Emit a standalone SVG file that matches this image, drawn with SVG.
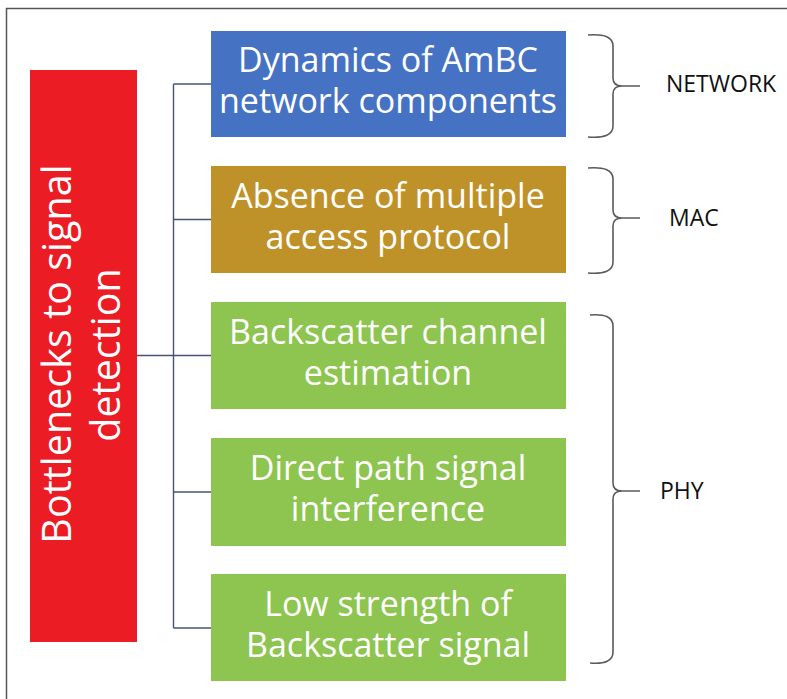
<svg xmlns="http://www.w3.org/2000/svg" width="787" height="699" viewBox="0 0 787 699">
<style>
.box text{font-family:"Open Sans","Noto Sans","DejaVu Sans",sans-serif;font-size:34px;fill:#ffffff;text-anchor:middle}
.root text{font-family:"Open Sans","Noto Sans","DejaVu Sans",sans-serif;font-size:39.5px;fill:#ffffff;text-anchor:middle}
.lbl{font-family:"Open Sans","Noto Sans","DejaVu Sans",sans-serif;font-size:23px;fill:#111111}
.brace{fill:none;stroke:#5a5a5a;stroke-width:1.6}
.conn{fill:none;stroke:#46527a;stroke-width:1.4}
</style>
<rect x="0" y="0" width="787" height="699" fill="#ffffff"/>
<path d="M6.5,699 L6.5,8.5 L787,8.5" fill="none" stroke="#555555" stroke-width="1.5"/>

<g id="connectors">
<path class="conn" d="M173.5,84 L173.5,628"/>
<path class="conn" d="M173.5,84 L211,84"/>
<path class="conn" d="M173.5,219.5 L211,219.5"/>
<path class="conn" d="M137,355.5 L211,355.5"/>
<path class="conn" d="M173.5,492 L211,492"/>
<path class="conn" d="M173.5,628 L211,628"/>
</g>

<g id="root" class="root">
<rect x="30" y="70" width="107" height="572" fill="#ec1c24"/>
<text transform="translate(71,354) rotate(-90)">Bottlenecks to signal</text>
<text transform="translate(120,355) rotate(-90)">detection</text>
</g>

<g id="n1" class="box">
<rect x="211" y="31" width="355" height="106" fill="#4672c4"/>
<text x="388" y="72">Dynamics of AmBC</text>
<text x="388" y="113">network components</text>
</g>
<g id="n2" class="box">
<rect x="211" y="166" width="355" height="107" fill="#bf9229"/>
<text x="388" y="207.5">Absence of multiple</text>
<text x="388" y="248.5">access protocol</text>
</g>
<g id="n3" class="box">
<rect x="211" y="302" width="355" height="107" fill="#8dc550"/>
<text x="388" y="343.5">Backscatter channel</text>
<text x="388" y="384.5">estimation</text>
</g>
<g id="n4" class="box">
<rect x="211" y="438" width="355" height="108" fill="#8dc550"/>
<text x="388" y="480">Direct path signal</text>
<text x="388" y="521">interference</text>
</g>
<g id="n5" class="box">
<rect x="211" y="574" width="355" height="107" fill="#8dc550"/>
<text x="388" y="615.5">Low strength of</text>
<text x="388" y="656.5">Backscatter signal</text>
</g>

<g id="brace-network">
<path class="brace" d="M588,35 Q613,33 613,46 L613,78 Q613,86 622,86 Q613,86 613,94 L613,126 Q613,139 588,137 M622,86 L640,86"/>
<text class="lbl" x="666" y="92">NETWORK</text>
</g>
<g id="brace-mac">
<path class="brace" d="M588,168 Q613,166 613,179 L613,210 Q613,218 622,218 Q613,218 613,226 L613,262 Q613,275 588,273 M622,218 L640,218"/>
<text class="lbl" x="669" y="226">MAC</text>
</g>
<g id="brace-phy">
<path class="brace" d="M590,315 Q613,313 613,326 L613,483 Q613,491 622,491 Q613,491 613,499 L613,652 Q613,665 590,663 M622,491 L640,491"/>
<text class="lbl" x="660" y="499">PHY</text>
</g>
</svg>
